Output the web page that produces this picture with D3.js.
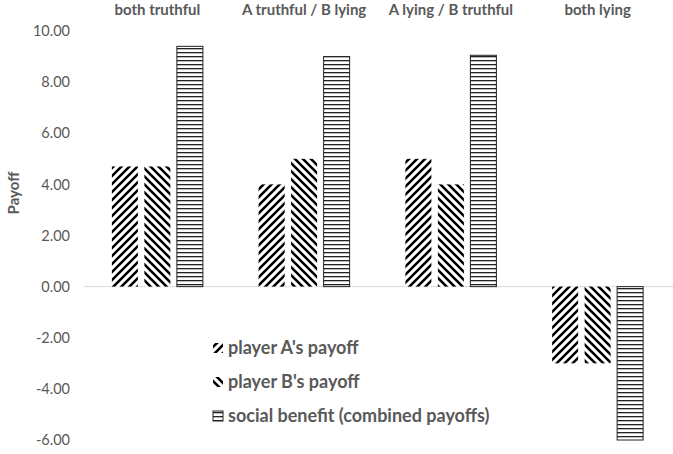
<!DOCTYPE html>
<html><head><meta charset="utf-8">
<script src="https://cdn.jsdelivr.net/npm/d3@7"></script>
<style>body{margin:0;background:#fff}svg{display:block;font-family:Lato,"Open Sans",sans-serif}</style>
</head><body><svg id="c" width="673" height="454"></svg>
<script>
const categories = ["both truthful", "A truthful / B lying", "A lying / B truthful", "both lying"];
const seriesNames = ["player A's payoff", "player B's payoff", "social benefit (combined payoffs)"];
const playerA = [4.7, 4.0, 5.0, -3.0];
const playerB = [4.7, 5.0, 4.0, -3.0];
const social = [9.4, 9.0, 9.05, -6.0];
const yTicks = [10, 8, 6, 4, 2, 0, -2, -4, -6];

const svg = d3.select("#c");
const defs = svg.append("defs");
const pA = defs.append("pattern").attr("id","pA").attr("patternUnits","userSpaceOnUse").attr("width",8).attr("height",8);
pA.append("rect").attr("width",8).attr("height",8).attr("fill","#fff");
pA.append("path").attr("d","M-2,2 L2,-2 M0,8 L8,0 M6,10 L10,6").attr("stroke","#000").attr("stroke-width",2.6);
const pB = defs.append("pattern").attr("id","pB").attr("patternUnits","userSpaceOnUse").attr("width",8).attr("height",8);
pB.append("rect").attr("width",8).attr("height",8).attr("fill","#fff");
pB.append("path").attr("d","M-2,6 L2,10 M0,0 L8,8 M6,-2 L10,2").attr("stroke","#000").attr("stroke-width",2.6);
const pS = defs.append("pattern").attr("id","pS").attr("patternUnits","userSpaceOnUse").attr("width",4).attr("height",4);
pS.append("rect").attr("width",4).attr("height",4).attr("fill","#fff");
pS.append("rect").attr("y",0).attr("width",4).attr("height",1.3).attr("fill","#222");

const x0 = d3.scaleBand().domain(categories).range([84, 671]);
const x1 = d3.scaleBand().domain(seriesNames).range([-45.5, 45.5]).paddingInner(0.2);
const y = d3.scaleLinear().domain([-6, 10]).range([440, 31]);

const fmt = d3.format(".2f");
const yAxis = d3.axisLeft(y).tickValues(yTicks).tickFormat(d => fmt(d).replace("\u2212","-")).tickSize(0).tickPadding(0);
const ga = svg.append("g").attr("transform","translate(70,0)").call(yAxis);
ga.select(".domain").remove();
ga.selectAll("text").attr("fill","#595959").style("font-size","14.5px").style("font-family","Lato, sans-serif");

svg.append("line").attr("x1",84).attr("x2",673).attr("y1",y(0)).attr("y2",y(0)).attr("stroke","#d9d9d9").attr("stroke-width",1);

const fills = ["url(#pA)","url(#pB)","url(#pS)"];
const data = [playerA, playerB, social];
categories.forEach((c,i)=>{
  const cx = x0(c) + x0.bandwidth()/2;
  seriesNames.forEach((s,j)=>{
    const v = data[j][i];
    const r = svg.append("rect")
      .attr("x", cx + x1(s))
      .attr("width", x1.bandwidth())
      .attr("y", Math.min(y(v), y(0)))
      .attr("height", Math.abs(y(v)-y(0)))
      .attr("fill", fills[j]);
    if (j===2) r.attr("stroke","#222").attr("stroke-width",1);
  });
  svg.append("text").attr("x",cx).attr("y",15).attr("text-anchor","middle")
    .attr("fill","#595959").style("font-size","15px").style("font-weight","bold").text(c);
});

svg.append("text").attr("transform","translate(19,193) rotate(-90)").attr("text-anchor","middle")
  .attr("fill","#595959").style("font-size","15px").style("font-weight","bold").text("Payoff");

const legY = [348, 382, 416];
seriesNames.forEach((s,j)=>{
  svg.append("rect").attr("x",213).attr("y",legY[j]-5).attr("width",10).attr("height",10).attr("fill",fills[j])
    .attr("stroke", j===2?"#222":"none");
  svg.append("text").attr("x",228).attr("y",legY[j]).attr("dy","0.35em").attr("fill","#595959")
    .style("font-size","18px").style("font-weight","bold").text(s);
});
</script></body></html>
